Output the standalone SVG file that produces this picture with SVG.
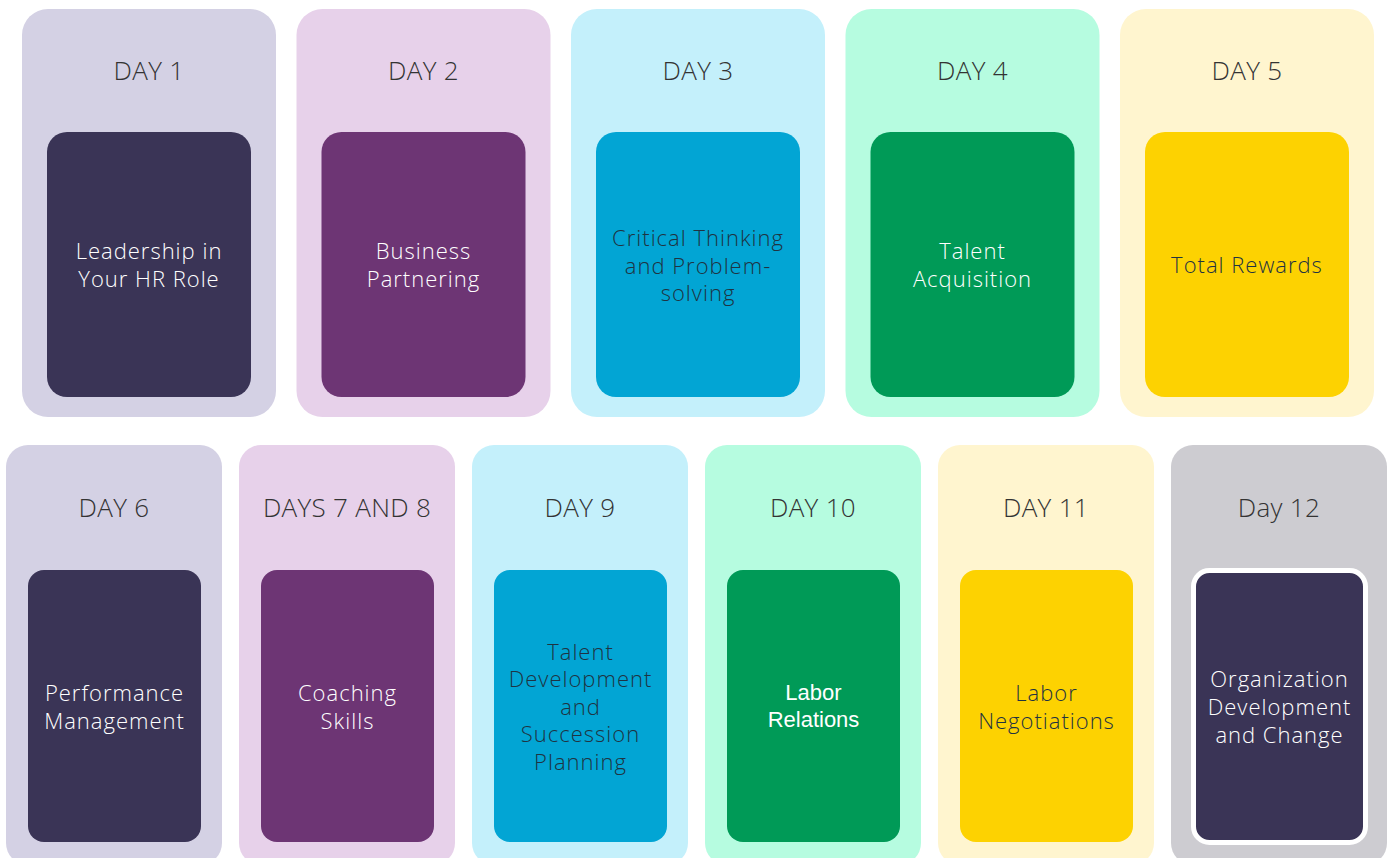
<svg xmlns="http://www.w3.org/2000/svg" width="1395" height="858" viewBox="0 0 1395 858">
<style>
.hd{font-family:"Open Sans","Liberation Sans",sans-serif;font-weight:300;font-size:26px;letter-spacing:0.3px;fill:#333333;text-anchor:middle}
.tx{font-family:"Open Sans","Liberation Sans",sans-serif;font-weight:300;font-size:22px;letter-spacing:1px;text-anchor:middle}
.w{fill:#ffffff}
.d{fill:#1f3342}
.ar{font-family:"Liberation Sans",Arial,sans-serif;font-weight:400;font-size:22px;fill:#ffffff;text-anchor:middle}
</style>
<rect width="1395" height="858" fill="#ffffff"/>
<g id="day1">
<rect x="22" y="9" width="254" height="408" rx="26" fill="#D4D1E4"/>
<text class="hd" x="149" y="80">DAY 1</text>
<rect x="47" y="132" width="204" height="265" rx="20" fill="#3A3456"/>
<text class="tx w" x="149" y="259">Leadership in</text>
<text class="tx w" x="149" y="287">Your HR Role</text>
</g>
<g id="day2">
<rect x="296.5" y="9" width="254" height="408" rx="26" fill="#E7D1EA"/>
<text class="hd" x="423.5" y="80">DAY 2</text>
<rect x="321.5" y="132" width="204" height="265" rx="20" fill="#6D3574"/>
<text class="tx w" x="423.5" y="259">Business</text>
<text class="tx w" x="423.5" y="287">Partnering</text>
</g>
<g id="day3">
<rect x="571" y="9" width="254" height="408" rx="26" fill="#C4F0FB"/>
<text class="hd" x="698" y="80">DAY 3</text>
<rect x="596" y="132" width="204" height="265" rx="20" fill="#02A5D4"/>
<text class="tx d" x="698" y="246">Critical Thinking</text>
<text class="tx d" x="698" y="274">and Problem-</text>
<text class="tx d" x="698" y="301">solving</text>
</g>
<g id="day4">
<rect x="845.5" y="9" width="254" height="408" rx="26" fill="#B6FCE0"/>
<text class="hd" x="972.5" y="80">DAY 4</text>
<rect x="870.5" y="132" width="204" height="265" rx="20" fill="#009A57"/>
<text class="tx w" x="972.5" y="259">Talent</text>
<text class="tx w" x="972.5" y="287">Acquisition</text>
</g>
<g id="day5">
<rect x="1120" y="9" width="254" height="408" rx="26" fill="#FFF5CF"/>
<text class="hd" x="1247" y="80">DAY 5</text>
<rect x="1145" y="132" width="204" height="265" rx="20" fill="#FDD201"/>
<text class="tx d" x="1247" y="273">Total Rewards</text>
</g>
<g id="day6">
<rect x="6" y="445" width="216" height="420" rx="22" fill="#D4D1E4"/>
<text class="hd" x="114" y="517">DAY 6</text>
<rect x="28" y="570" width="173" height="272" rx="16" fill="#3A3456"/>
<text class="tx w" x="114.5" y="701">Performance</text>
<text class="tx w" x="114.5" y="729">Management</text>
</g>
<g id="days7and8">
<rect x="239" y="445" width="216" height="420" rx="22" fill="#E7D1EA"/>
<text class="hd" x="347" y="517">DAYS 7 AND 8</text>
<rect x="261" y="570" width="173" height="272" rx="16" fill="#6D3574"/>
<text class="tx w" x="347.5" y="701">Coaching</text>
<text class="tx w" x="347.5" y="729">Skills</text>
</g>
<g id="day9">
<rect x="472" y="445" width="216" height="420" rx="22" fill="#C4F0FB"/>
<text class="hd" x="580" y="517">DAY 9</text>
<rect x="494" y="570" width="173" height="272" rx="16" fill="#02A5D4"/>
<text class="tx d" x="580.5" y="660">Talent</text>
<text class="tx d" x="580.5" y="687">Development</text>
<text class="tx d" x="580.5" y="715">and</text>
<text class="tx d" x="580.5" y="742">Succession</text>
<text class="tx d" x="580.5" y="770">Planning</text>
</g>
<g id="day10">
<rect x="705" y="445" width="216" height="420" rx="22" fill="#B6FCE0"/>
<text class="hd" x="813" y="517">DAY 10</text>
<rect x="727" y="570" width="173" height="272" rx="16" fill="#009A57"/>
<text class="ar" x="813.5" y="700">Labor</text>
<text class="ar" x="813.5" y="727">Relations</text>
</g>
<g id="day11">
<rect x="938" y="445" width="216" height="420" rx="22" fill="#FFF5CF"/>
<text class="hd" x="1046" y="517">DAY 11</text>
<rect x="960" y="570" width="173" height="272" rx="16" fill="#FDD201"/>
<text class="tx d" x="1046.5" y="701">Labor</text>
<text class="tx d" x="1046.5" y="729">Negotiations</text>
</g>
<g id="day12">
<rect x="1171" y="445" width="216" height="420" rx="22" fill="#CDCCD1"/>
<text class="hd" x="1279" y="517">Day 12</text>
<rect x="1193.5" y="570.5" width="172" height="272" rx="16" fill="#3A3456" stroke="#ffffff" stroke-width="5"/>
<text class="tx w" x="1279.5" y="687">Organization</text>
<text class="tx w" x="1279.5" y="715">Development</text>
<text class="tx w" x="1279.5" y="743">and Change</text>
</g>
<g id="connectors"></g>
</svg>
